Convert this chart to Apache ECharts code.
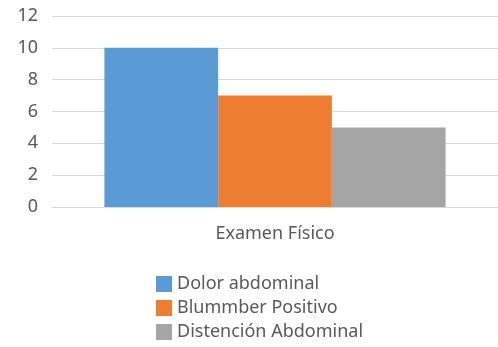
<!DOCTYPE html>
<html>
<head>
<meta charset="utf-8">
<script src="https://cdn.jsdelivr.net/npm/echarts@6/dist/echarts.min.js"></script>
<style>
  html, body { margin: 0; padding: 0; background: #fff; }
  #chart { width: 498px; height: 347px; }
</style>
</head>
<body>
<div id="chart"></div>
<script>
var categories = ['Examen Físico'];
var seriesNames = ['Dolor abdominal', 'Blummber Positivo', 'Distención Abdominal'];
var seriesValues = [[10], [7], [5]];
var colors = ['#5B9BD5', '#ED7D31', '#A5A5A5'];

var myChart = echarts.init(document.getElementById('chart'));

var series = seriesNames.map(function (name, i) {
  return {
    name: name,
    type: 'bar',
    data: seriesValues[i],
    barGap: '0%',
    barCategoryGap: '23.5%',
    itemStyle: { color: colors[i] }
  };
});

var option = {
  animation: false,
  textStyle: { fontFamily: 'Noto Sans' },
  grid: { left: 52, right: 0, top: 16, bottom: 140, containLabel: false },
  xAxis: {
    type: 'category',
    data: categories,
    axisLine: { lineStyle: { color: '#D9D9D9' } },
    axisTick: { show: false },
    axisLabel: { color: '#595959', fontSize: 18, margin: 18 }
  },
  yAxis: {
    type: 'value',
    min: 0,
    max: 12,
    interval: 2,
    axisLine: { show: false },
    axisTick: { show: false },
    axisLabel: { color: '#595959', fontSize: 18, margin: 14 },
    splitLine: { lineStyle: { color: '#D9D9D9' } }
  },
  legend: {
    orient: 'vertical',
    left: 151,
    top: 270,
    height: 120,
    itemWidth: 16,
    itemHeight: 16,
    itemGap: 6,
    icon: 'rect',
    textStyle: { color: '#595959', fontSize: 18 },
    data: seriesNames
  },
  series: series
};

myChart.setOption(option);
</script>
</body>
</html>
